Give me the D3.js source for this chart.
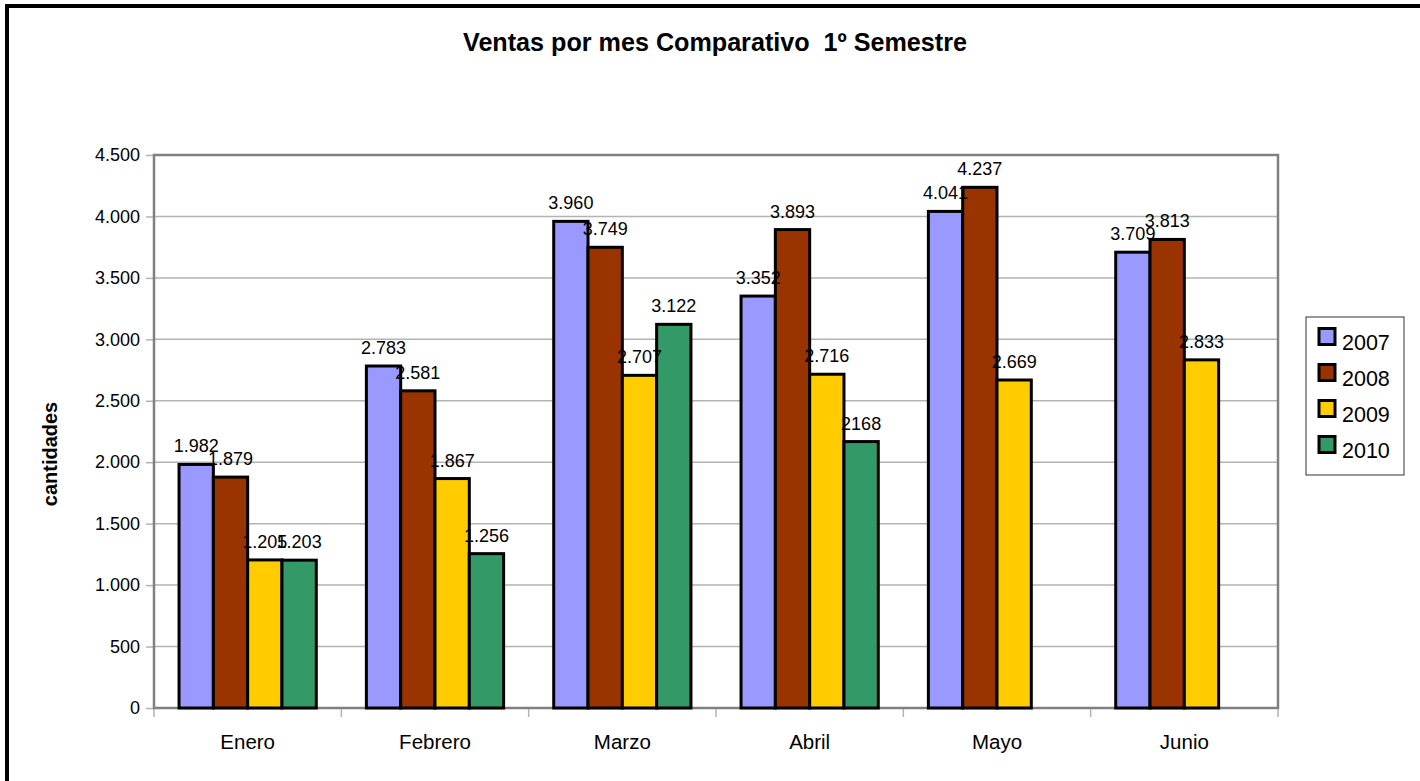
<!DOCTYPE html>
<html>
<head>
<meta charset="utf-8">
<script src="https://cdn.jsdelivr.net/npm/d3@7.9.0/dist/d3.min.js"></script>
<style>
  body { margin: 0; background: #fff; }
  svg { display: block; font-family: "Liberation Sans", Arial, sans-serif; }
</style>
</head>
<body>
<svg id="chart" width="1420" height="781"></svg>
<script>
const months = ["Enero", "Febrero", "Marzo", "Abril", "Mayo", "Junio"];
const years = ["2007", "2008", "2009", "2010"];
const sales2007 = [1982, 2783, 3960, 3352, 4041, 3709];
const sales2008 = [1879, 2581, 3749, 3893, 4237, 3813];
const sales2009 = [1205, 1867, 2707, 2716, 2669, 2833];
const sales2010 = [1203, 1256, 3122, 2168, null, null];
const yTicks = [0, 500, 1000, 1500, 2000, 2500, 3000, 3500, 4000, 4500];
const colors = ["#9999ff", "#993300", "#ffcc00", "#339966"];
// one label in the original has no thousands separator
const rawLabels = { "2010-Abril": "2168" };

const series = [sales2007, sales2008, sales2009, sales2010];

const locale = d3.formatLocale({ decimal: ",", thousands: ".", grouping: [3], currency: ["", ""] });
const fmt = locale.format(",d");

const svg = d3.select("#chart");

// outer frame (only left/top edges fall inside the picture)
svg.append("rect")
  .attr("x", 7).attr("y", 6)
  .attr("width", 1500).attr("height", 900)
  .attr("fill", "none").attr("stroke", "#000").attr("stroke-width", 4);

const plotL = 154, plotR = 1278, plotT = 155, plotB = 708;

const x0 = d3.scaleBand().domain(months).range([plotL, plotR]).padding(0);
const x1 = d3.scaleBand().domain(years).range([0, x0.bandwidth()]).paddingInner(0).paddingOuter(0.73);
const y = d3.scaleLinear().domain([0, 4500]).range([plotB, plotT]);

// gridlines
svg.append("g")
  .selectAll("line")
  .data(yTicks)
  .join("line")
  .attr("x1", plotL).attr("x2", plotR)
  .attr("y1", d => y(d)).attr("y2", d => y(d))
  .attr("stroke", "#b3b3b3").attr("stroke-width", 1.5);

// y axis
const yAxis = svg.append("g")
  .attr("transform", `translate(${plotL},0)`)
  .call(d3.axisLeft(y).tickValues(yTicks).tickFormat(fmt).tickSize(8).tickPadding(6));
yAxis.select(".domain").remove();
yAxis.selectAll("line").attr("stroke", "#b3b3b3").attr("stroke-width", 1.5);
yAxis.selectAll("text").attr("font-size", 18).attr("fill", "#000")
  .attr("font-family", "Liberation Sans, Arial, sans-serif");

// x axis category boundaries
const bounds = months.map(m => x0(m)).concat([plotR]);
svg.append("g")
  .selectAll("line")
  .data(bounds)
  .join("line")
  .attr("x1", d => d).attr("x2", d => d)
  .attr("y1", plotB).attr("y2", plotB + 9)
  .attr("stroke", "#b3b3b3").attr("stroke-width", 1.5);

const xAxis = svg.append("g")
  .attr("transform", `translate(0,${plotB})`)
  .call(d3.axisBottom(x0).tickSize(0).tickPadding(26));
xAxis.select(".domain").remove();
xAxis.selectAll("text").attr("font-size", 20.5).attr("fill", "#000")
  .attr("font-family", "Liberation Sans, Arial, sans-serif");

// plot area border
svg.append("rect")
  .attr("x", plotL).attr("y", plotT)
  .attr("width", plotR - plotL).attr("height", plotB - plotT)
  .attr("fill", "none").attr("stroke", "#808080").attr("stroke-width", 2.5);

// bars
const bars = [];
months.forEach((m, i) => {
  years.forEach((yr, j) => {
    const v = series[j][i];
    if (v != null) bars.push({ month: m, year: yr, value: v, color: colors[j] });
  });
});

svg.append("g")
  .selectAll("rect")
  .data(bars)
  .join("rect")
  .attr("x", d => x0(d.month) + x1(d.year))
  .attr("y", d => y(d.value))
  .attr("width", x1.bandwidth())
  .attr("height", d => y(0) - y(d.value))
  .attr("fill", d => d.color)
  .attr("stroke", "#000").attr("stroke-width", 3);

svg.append("g")
  .selectAll("text")
  .data(bars)
  .join("text")
  .attr("x", d => x0(d.month) + x1(d.year) + x1.bandwidth() / 2)
  .attr("y", d => y(d.value) - 12)
  .attr("text-anchor", "middle")
  .attr("font-size", 18)
  .text(d => rawLabels[d.year + "-" + d.month] || fmt(d.value));

// title
svg.append("text")
  .attr("x", 715).attr("y", 51)
  .attr("text-anchor", "middle")
  .attr("font-size", 25).attr("font-weight", "bold")
  .attr("textLength", 504).attr("lengthAdjust", "spacingAndGlyphs")
  .style("white-space", "pre")
  .text("Ventas por mes Comparativo  1º Semestre");

// y label
svg.append("text")
  .attr("transform", "translate(57,454) rotate(-90)")
  .attr("text-anchor", "middle")
  .attr("font-size", 20).attr("font-weight", "bold")
  .text("cantidades");

// legend
const legend = svg.append("g");
legend.append("rect")
  .attr("x", 1306).attr("y", 317).attr("width", 98).attr("height", 158)
  .attr("fill", "#fff").attr("stroke", "#333").attr("stroke-width", 1);
const items = legend.selectAll("g.item")
  .data(years)
  .join("g")
  .attr("class", "item")
  .attr("transform", (d, i) => `translate(0,${327 + i * 36})`);
items.append("rect")
  .attr("x", 1319).attr("y", 1.5).attr("width", 16).attr("height", 16)
  .attr("fill", (d, i) => colors[i]).attr("stroke", "#000").attr("stroke-width", 3);
items.append("text")
  .attr("x", 1342).attr("y", 23)
  .attr("font-size", 21.5)
  .text(d => d);
</script>
</body>
</html>
